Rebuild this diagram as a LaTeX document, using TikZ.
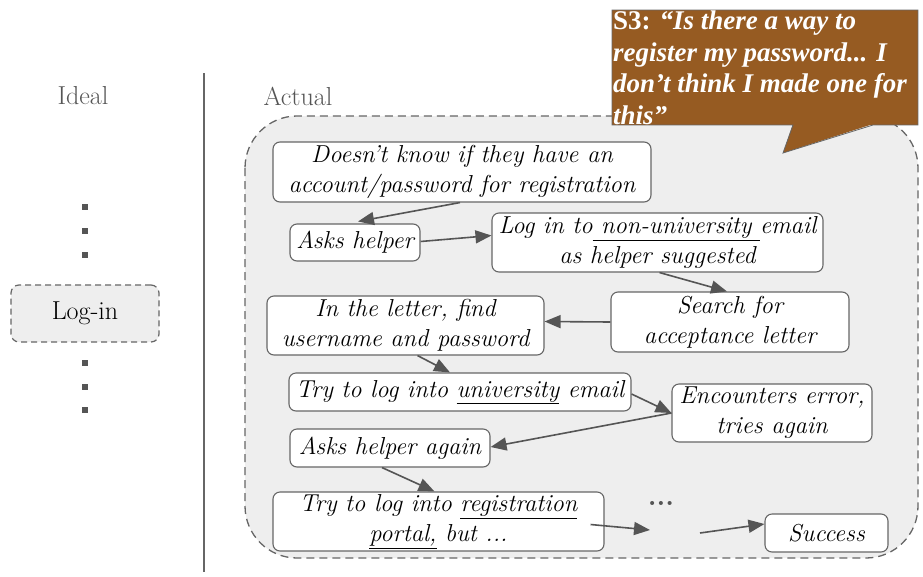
\documentclass[tikz,border=0pt]{standalone}
\usepackage{fontspec}
\newfontfamily\quotefont{Liberation Serif}
\usetikzlibrary{arrows.meta,calc}
\definecolor{edgegray}{HTML}{666666}
\definecolor{arrowgray}{HTML}{555555}
\definecolor{panel}{HTML}{EEEEEE}
\definecolor{quotebrown}{RGB}{150,91,34}
\definecolor{labelgray}{HTML}{555555}
\tikzset{
  stepbox/.style={draw=edgegray, line width=1.1pt, fill=white, rounded corners=7pt,
    inner sep=0pt, align=center, font=\fontsize{24.5}{30}\selectfont\itshape},
  flow/.style={draw=arrowgray, line width=1.6pt, -{Triangle[length=16pt,width=13pt]}},
  dotmark/.style={fill=labelgray, draw=none, minimum size=6pt, inner sep=0pt},
  header/.style={text=labelgray, font=\fontsize{26}{28}\selectfont},
}
\begin{document}
\begin{tikzpicture}[x=1pt,y=-1pt]
\useasboundingbox (0,0) rectangle (923,576);

% column headers and divider
\node[header] (ideal) at (83,96) {Ideal};
\node[header] (actual) at (298,96) {Actual};
\coordinate (divtop) at (204,73);
\coordinate (divbot) at (204,572);
\draw[edgegray, line width=1.2pt] (divtop) -- (divbot);

% ideal column
\foreach \yy [count=\i] in {207,231,255,363,387,410}
  \node[dotmark] (dot\i) at (85,\yy) {};
\node[draw=edgegray, dash pattern=on 6pt off 4pt, line width=1.2pt, fill=panel,
  rounded corners=8pt, minimum width=148pt, minimum height=57pt, inner sep=0pt,
  font=\fontsize{26}{28}\selectfont] (login) at (85,313.5) {Log-in};

% actual panel
\draw[draw=edgegray, dash pattern=on 8pt off 5pt, line width=1.3pt, fill=panel,
  rounded corners=52pt] (245,116) rectangle (918,558);

% quote bubble
\fill[quotebrown] (612,10) rectangle (918,125);
\fill[quotebrown] (793,124) -- (783,153) -- (873,124) -- cycle;
\draw[edgegray, line width=0.8pt] (793,125) -- (612,125) -- (612,10) -- (918,10) -- (918,125) -- (873,125) -- (783,153) -- cycle;
\node[anchor=north west, inner sep=0pt, align=left, text=white,
  font=\fontsize{27}{31.5}\selectfont\quotefont\bfseries] (quote) at (613,11)
  {S3: \textit{“Is there a way to}\\
   \textit{register my password... I}\\
   \textit{don’t think I made one for}\\
   \textit{this”}};

% steps
\node[stepbox, minimum width=378pt, minimum height=60pt] (n1) at (462,172)
  {Doesn’t know if they have an\\account/password for registration};
\node[stepbox, minimum width=130pt, minimum height=37pt] (n2) at (355,242.5)
  {Asks helper};
\node[stepbox, minimum width=331pt, minimum height=59pt] (n3) at (657.5,242.5)
  {Log in to\underline{\ non-university\ }email\\as helper suggested};
\node[stepbox, minimum width=238pt, minimum height=60pt] (n4) at (730,322)
  {Search for\\acceptance letter};
\node[stepbox, minimum width=277pt, minimum height=59pt] (n5) at (405.5,325.5)
  {In the letter, find\\username and password};
\node[stepbox, minimum width=342pt, minimum height=38pt] (n6) at (460,392)
  {Try to log into \underline{university} email};
\node[stepbox, minimum width=200pt, minimum height=58pt] (n7) at (772,413)
  {Encounters error,\\tries again};
\node[stepbox, minimum width=200pt, minimum height=38pt] (n8) at (390,448)
  {Asks helper again};
\node[stepbox, minimum width=331pt, minimum height=59pt] (n9) at (438.5,521.5)
  {Try to log into \underline{registration}\\\underline{portal,} but ...};
\node[stepbox, minimum width=123pt, minimum height=38pt] (n10) at (826.5,533)
  {Success};
\node[font=\fontsize{28}{30}\selectfont\bfseries, text=arrowgray, inner sep=0pt] (more) at (661,503) {...};

% connectors
\coordinate (gapin) at (650,530);
\coordinate (gapout) at (700,533);
\draw[flow] ([xshift=-2pt]n1.south) -- ([xshift=3pt,yshift=2pt]n2.north);
\draw[flow] ([yshift=1pt]n2.east) -- ([yshift=7pt]n3.west);
\draw[flow] ([xshift=2pt]n3.south) -- ([xshift=-3pt]n4.north);
\draw[flow] (n4.west) -- ([yshift=4pt]n5.east);
\draw[flow] ([xshift=12pt]n5.south) -- ([xshift=-10pt]n6.north);
\draw[flow] ([yshift=-2pt]n6.east) -- (n7.west);
\draw[flow] (n7.west) -- ([yshift=1pt]n8.east);
\draw[flow] ([xshift=-8pt]n8.south) -- ([xshift=-4pt]n9.north);
\draw[flow] ([xshift=-14pt,yshift=-3pt]n9.east) -- (gapin);
\draw[flow] (gapout) -- ([yshift=9pt]n10.west);
\end{tikzpicture}
\end{document}
